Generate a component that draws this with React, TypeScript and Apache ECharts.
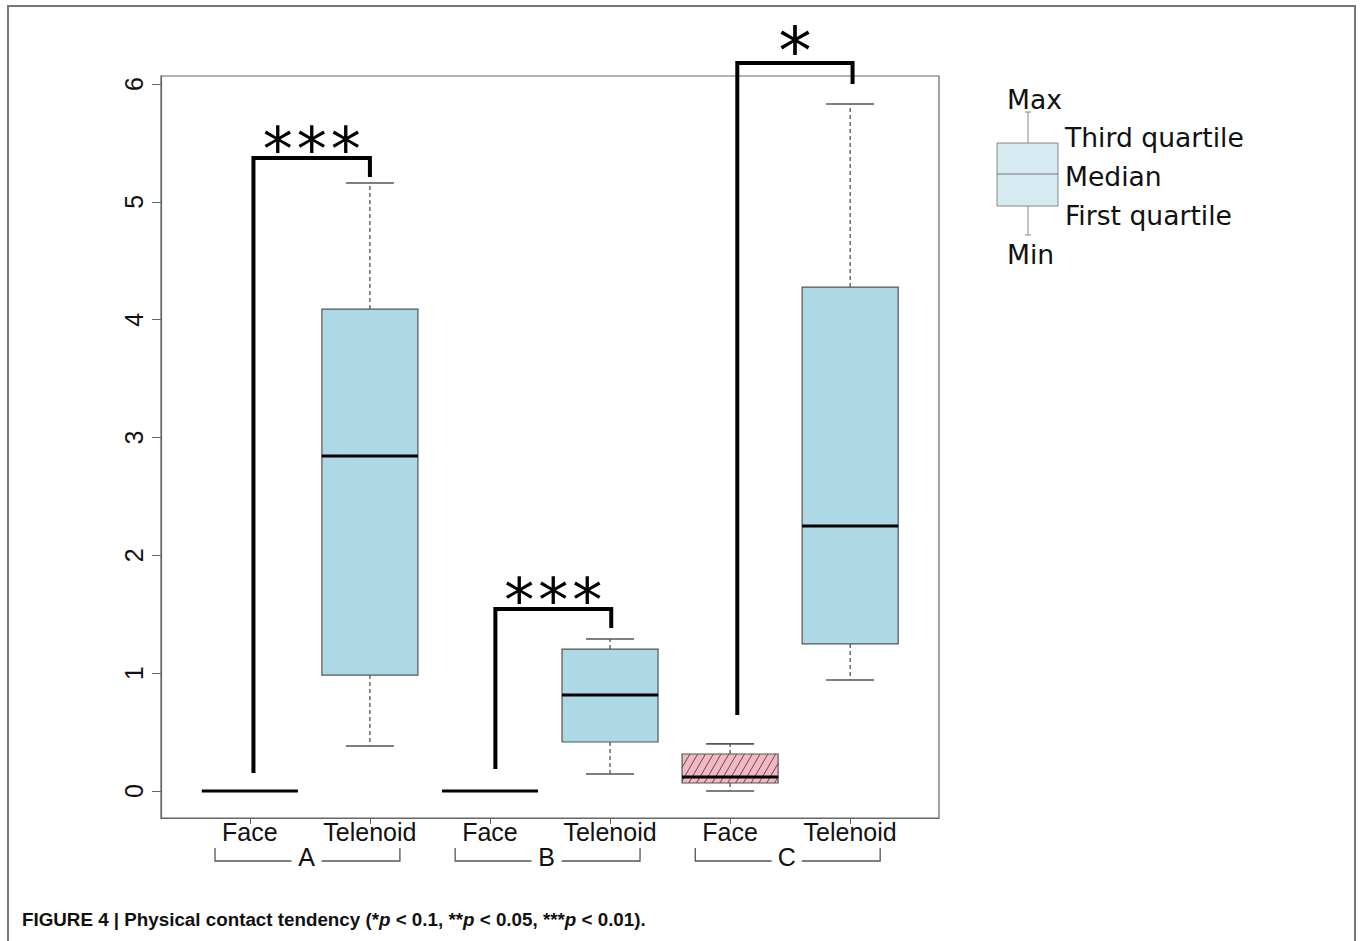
import React, { useEffect, useRef } from "react";
import * as echarts from "echarts";

// ---------- data ----------
const categories = ["Face", "Telenoid", "Face", "Telenoid", "Face", "Telenoid"];
const groupLabels = ["A", "B", "C"];
const mins = [0, 0.382, 0, 0.144, 0, 0.942];
const q1s = [0, 0.984, 0, 0.416, 0.068, 1.248];
const medians = [0, 2.843, 0, 0.815, 0.119, 2.249];
const q3s = [0, 4.09, 0, 1.205, 0.314, 4.277];
const maxs = [0, 5.16, 0, 1.29, 0.4, 5.83];
const hatched = [false, false, false, false, true, false];
const yTicks = [0, 1, 2, 3, 4, 5, 6];
const bracketLeftLow = [0.153, 0.187, 0.645];
const bracketTop = [5.372, 1.545, 6.178];
const bracketRightLow = [5.21, 1.383, 6.0];
const bracketStars = [3, 3, 1];
const legendLabels = ["Max", "Third quartile", "Median", "First quartile", "Min"];

const Y_MIN = -0.229;
const Y_MAX = 6.068;
const X_MIN = 0.26;
const X_MAX = 6.74;

const BLUE = "#ADD8E6";
const PINK = "#F3B8C3";

export default function App() {
  const ref = useRef<HTMLDivElement>(null);

  useEffect(() => {
    if (!ref.current) return;
    const chart = echarts.init(ref.current, null, { renderer: "svg" });

    const boxData = categories.map((c, i) => [i + 1, mins[i], q1s[i], medians[i], q3s[i], maxs[i], i]);
    const bracketData = groupLabels.map((g, i) => [
      2 * i + 1 + 0.03 + 0.015 * i,
      2 * i + 2 + 0.01 * i,
      bracketLeftLow[i],
      bracketTop[i],
      bracketRightLow[i],
      i,
    ]);
    const groupData = groupLabels.map((g, i) => [2 * i + 1 - 0.29, 2 * i + 2 + 0.25, i]);

    const renderBox = (params: any, api: any) => {
      const x = api.value(0);
      const idx = api.value(6);
      const [cx, yMin] = api.coord([x, api.value(1)]);
      const yQ1 = api.coord([x, api.value(2)])[1];
      const yMed = api.coord([x, api.value(3)])[1];
      const yQ3 = api.coord([x, api.value(4)])[1];
      const yMax = api.coord([x, api.value(5)])[1];
      const halfW = api.size([0.8, 0])[0] / 2;
      const capHalf = halfW / 2;
      const xl = cx - halfW;
      const xr = cx + halfW;
      const children: any[] = [];
      const dash = { stroke: "#444", lineWidth: 1.2, lineDash: [4, 3] };
      children.push({ type: "line", shape: { x1: cx, y1: yQ3, x2: cx, y2: yMax }, style: dash });
      children.push({ type: "line", shape: { x1: cx, y1: yQ1, x2: cx, y2: yMin }, style: dash });
      const cap = { stroke: "#555", lineWidth: 1.6 };
      children.push({ type: "line", shape: { x1: cx - capHalf, y1: yMax, x2: cx + capHalf, y2: yMax }, style: cap });
      children.push({ type: "line", shape: { x1: cx - capHalf, y1: yMin, x2: cx + capHalf, y2: yMin }, style: cap });
      children.push({
        type: "rect",
        shape: { x: xl, y: yQ3, width: 2 * halfW, height: yQ1 - yQ3 },
        style: { fill: hatched[idx] ? PINK : BLUE, stroke: "#555", lineWidth: 1.2 },
      });
      if (hatched[idx]) {
        const h = yQ1 - yQ3;
        const c = 1 / Math.tan((60 * Math.PI) / 180);
        const sp = 7.8;
        for (let s = xl - h * c; s < xr; s += sp) {
          const t0 = Math.max(0, (xl - s) / c);
          const t1 = Math.min(h, (xr - s) / c);
          if (t1 <= t0) continue;
          children.push({
            type: "line",
            shape: { x1: s + t0 * c, y1: yQ1 - t0, x2: s + t1 * c, y2: yQ1 - t1 },
            style: { stroke: "#444", lineWidth: 0.9 },
          });
        }
      }
      children.push({
        type: "line",
        shape: { x1: xl, y1: yMed, x2: xr, y2: yMed },
        style: { stroke: "#000", lineWidth: 3 },
      });
      return { type: "group", children };
    };

    const renderBracket = (params: any, api: any) => {
      const lx = api.value(0);
      const rx = api.value(1);
      const idx = api.value(5);
      const [pl, pLow] = api.coord([lx, api.value(2)]);
      const [pr, pTop] = api.coord([rx, api.value(3)]);
      const pRLow = api.coord([rx, api.value(4)])[1];
      const children: any[] = [
        {
          type: "polyline",
          shape: { points: [[pl, pLow], [pl, pTop], [pr, pTop], [pr, pRLow]] },
          style: { stroke: "#000", lineWidth: 4, fill: null, lineJoin: "miter" },
        },
      ];
      const n = bracketStars[idx];
      const mid = (pl + pr) / 2;
      for (let k = 0; k < n; k++) {
        const off = (k - (n - 1) / 2) * 34;
        children.push({
          type: "text",
          style: {
            text: "*",
            x: mid + off,
            y: pTop - (n === 1 ? 12 : 9),
            fill: "#000",
            font: (n === 1 ? 66 : 60) + "px 'DejaVu Sans'",
            align: "center",
            verticalAlign: "middle",
          },
        });
      }
      return { type: "group", children };
    };

    const renderGroup = (params: any, api: any) => {
      const lx = api.value(0);
      const rx = api.value(1);
      const idx = api.value(2);
      const pl = api.coord([lx, 0])[0];
      const pr = api.coord([rx, 0])[0];
      const base = api.coord([lx, Y_MIN])[1];
      const yl = base + 43;
      const yt = base + 30;
      const mid = (pl + pr) / 2;
      const st = { stroke: "#555", lineWidth: 1.3, fill: null };
      return {
        type: "group",
        children: [
          { type: "polyline", shape: { points: [[pl, yt], [pl, yl], [mid - 16, yl]] }, style: st },
          { type: "polyline", shape: { points: [[mid + 14, yl], [pr, yl], [pr, yt]] }, style: st },
          {
            type: "text",
            style: {
              text: groupLabels[idx],
              x: mid - 1,
              y: yl - 4,
              fill: "#111",
              font: "25px 'Liberation Sans'",
              align: "center",
              verticalAlign: "middle",
            },
          },
        ],
      };
    };

    const option: any = {
      animation: false,
      backgroundColor: "#fff",
      grid: {
        left: 161,
        top: 76,
        width: 778,
        height: 742,
        show: true,
        borderColor: "#666",
        borderWidth: 1.2,
        backgroundColor: "transparent",
      },
      xAxis: {
        type: "value",
        min: X_MIN,
        max: X_MAX,
        splitLine: { show: false },
        axisLine: { show: true, onZero: false, lineStyle: { color: "#666", width: 1.2 } },
        axisTick: { show: true, length: 6, customValues: [1, 2, 3, 4, 5, 6], lineStyle: { color: "#666" } },
        axisLabel: {
          customValues: [1, 2, 3, 4, 5, 6],
          formatter: (v: number) => categories[Math.round(v) - 1] || "",
          fontFamily: "Liberation Sans",
          fontSize: 25,
          color: "#111",
          margin: 1,
        },
      },
      yAxis: {
        type: "value",
        min: Y_MIN,
        max: Y_MAX,
        splitLine: { show: false },
        axisLine: { show: true, onZero: false, lineStyle: { color: "#666", width: 1.2 } },
        axisTick: { show: true, length: 9, customValues: yTicks, lineStyle: { color: "#666" } },
        axisLabel: {
          customValues: yTicks,
          formatter: (v: number) => String(Math.round(v)),
          rotate: 90,
          fontFamily: "Liberation Sans",
          fontSize: 25,
          color: "#111",
          margin: 15,
        },
      },
      series: [
        {
          type: "custom",
          silent: true,
          clip: false,
          renderItem: renderBox,
          encode: { x: 0, y: [1, 2, 3, 4, 5] },
          data: boxData,
        },
        {
          type: "custom",
          silent: true,
          clip: false,
          renderItem: renderBracket,
          encode: { x: [0, 1], y: [2, 3, 4] },
          data: bracketData,
        },
        {
          type: "custom",
          silent: true,
          clip: false,
          renderItem: renderGroup,
          encode: { x: [0, 1] },
          data: groupData,
        },
      ],
      graphic: [
        {
          type: "rect",
          silent: true,
          shape: { x: 8, y: 6, width: 1347, height: 980 },
          style: { fill: "none", stroke: "#777", lineWidth: 2 },
        },
        // legend explanation
        { type: "line", shape: { x1: 1028, y1: 112, x2: 1028, y2: 143 }, style: { stroke: "#888", lineWidth: 1 } },
        { type: "line", shape: { x1: 1025, y1: 112, x2: 1031, y2: 112 }, style: { stroke: "#888", lineWidth: 1 } },
        { type: "line", shape: { x1: 1028, y1: 206, x2: 1028, y2: 235 }, style: { stroke: "#888", lineWidth: 1 } },
        { type: "line", shape: { x1: 1025, y1: 235, x2: 1031, y2: 235 }, style: { stroke: "#888", lineWidth: 1 } },
        {
          type: "rect",
          shape: { x: 997, y: 143, width: 61, height: 63 },
          style: { fill: "#D6EAF2", stroke: "#888", lineWidth: 1 },
        },
        { type: "line", shape: { x1: 997, y1: 174, x2: 1058, y2: 174 }, style: { stroke: "#777", lineWidth: 1 } },
        ...[
          [1007, 99],
          [1065, 137],
          [1065, 176],
          [1065, 215],
          [1007, 254],
        ].map(([x, y], i) => ({
          type: "text",
          style: {
            text: legendLabels[i],
            x,
            y,
            fill: "#111",
            font: "26.6px 'DejaVu Sans'",
            align: "left",
            verticalAlign: "middle",
          },
        })),
        {
          type: "text",
          style: {
            x: 22,
            y: 919,
            text:
              "{b|FIGURE 4 | Physical contact tendency (*}{i|p}{b| < 0.1, **}{i|p}{b| < 0.05, ***}{i|p}{b| < 0.01).}",
            verticalAlign: "middle",
            align: "left",
            rich: {
              b: { fontFamily: "Liberation Sans", fontWeight: "bold", fontSize: 18.8, fill: "#111" },
              i: { fontFamily: "Liberation Sans", fontWeight: "bold", fontStyle: "italic", fontSize: 18.8, fill: "#111" },
            },
          },
        },
      ],
    };

    chart.setOption(option);
    return () => chart.dispose();
  }, []);

  return (
    <div
      ref={ref}
      style={{ position: "absolute", left: 0, top: 0, width: 1363, height: 941, background: "#fff" }}
    />
  );
}
